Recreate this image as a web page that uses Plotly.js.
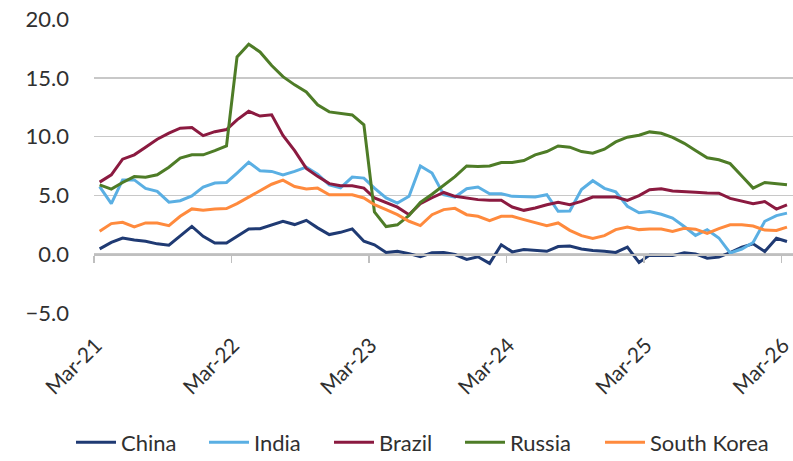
<!DOCTYPE html>
<html>
<head>
<meta charset="utf-8">
<script src="https://cdn.plot.ly/plotly-3.0.1.min.js"></script>
<style>html,body{margin:0;padding:0;background:#fff;}#chart{width:793px;height:461px;}</style>
</head>
<body>
<div id="chart"></div>
<script>
// Months (mid-month positions), Mar-21 .. Mar-26
const months = [
 "2021-03","2021-04","2021-05","2021-06","2021-07","2021-08","2021-09","2021-10","2021-11","2021-12",
 "2022-01","2022-02","2022-03","2022-04","2022-05","2022-06","2022-07","2022-08","2022-09","2022-10","2022-11","2022-12",
 "2023-01","2023-02","2023-03","2023-04","2023-05","2023-06","2023-07","2023-08","2023-09","2023-10","2023-11","2023-12",
 "2024-01","2024-02","2024-03","2024-04","2024-05","2024-06","2024-07","2024-08","2024-09","2024-10","2024-11","2024-12",
 "2025-01","2025-02","2025-03","2025-04","2025-05","2025-06","2025-07","2025-08","2025-09","2025-10","2025-11","2025-12",
 "2026-01","2026-02","2026-03"];

const china = [0.45,1.0,1.37,1.2,1.1,0.88,0.76,1.52,2.36,1.52,0.95,0.95,1.55,2.15,2.17,2.52,2.8,2.52,2.88,2.24,1.67,1.86,2.15,1.1,0.8,0.15,0.25,0.05,-0.22,0.12,0.15,-0.03,-0.45,-0.22,-0.78,0.8,0.2,0.4,0.35,0.25,0.65,0.7,0.45,0.32,0.25,0.15,0.6,-0.7,-0.08,-0.12,-0.12,0.12,0.03,-0.34,-0.25,0.14,0.6,0.88,0.23,1.36,1.08];
const india = [5.75,4.3,6.32,6.32,5.6,5.34,4.42,4.55,4.95,5.7,6.05,6.1,6.9,7.82,7.1,7.04,6.75,7.04,7.4,6.8,5.9,5.65,6.56,6.47,5.62,4.78,4.35,4.92,7.5,6.9,5.06,4.86,5.57,5.71,5.14,5.14,4.92,4.86,4.86,5.06,3.65,3.68,5.5,6.25,5.6,5.3,4.08,3.52,3.63,3.4,3.07,2.36,1.6,2.08,1.38,0.1,0.44,1.0,2.8,3.28,3.49];
const brazil = [6.13,6.75,8.08,8.45,9.1,9.78,10.3,10.72,10.77,10.08,10.42,10.6,11.42,12.15,11.75,11.85,10.1,8.8,7.3,6.62,6.0,5.82,5.82,5.62,4.78,4.35,4.0,3.36,4.3,4.8,5.25,4.92,4.78,4.64,4.58,4.58,4.01,3.73,3.93,4.21,4.41,4.21,4.49,4.86,4.86,4.86,4.58,4.98,5.48,5.57,5.38,5.35,5.26,5.2,5.19,4.75,4.5,4.29,4.48,3.84,4.2];
const russia = [5.9,5.54,6.1,6.6,6.55,6.75,7.4,8.17,8.45,8.45,8.8,9.2,16.78,17.86,17.2,16.05,15.1,14.4,13.8,12.7,12.1,12.0,11.84,11.0,3.6,2.35,2.5,3.3,4.4,5.1,5.9,6.6,7.5,7.45,7.5,7.8,7.8,7.97,8.45,8.73,9.2,9.1,8.73,8.59,8.93,9.55,9.95,10.12,10.4,10.28,9.93,9.43,8.81,8.2,8.03,7.7,6.65,5.62,6.1,5.98,5.9];
const southKorea = [1.95,2.6,2.71,2.32,2.66,2.66,2.43,3.22,3.85,3.73,3.85,3.88,4.3,4.86,5.34,5.95,6.3,5.76,5.54,5.62,5.06,5.06,5.06,4.78,4.21,3.79,3.36,2.8,2.43,3.36,3.79,3.9,3.36,3.22,2.86,3.22,3.22,2.94,2.71,2.43,2.66,2.03,1.58,1.33,1.58,2.09,2.32,2.09,2.15,2.15,1.94,2.2,2.13,1.76,2.18,2.5,2.5,2.4,2.05,2.02,2.3];

const seriesNames = ["China","India","Brazil","Russia","South Korea"];
const seriesColors = ["#1F3A73","#5AAFE3","#8B1A40","#4E7C27","#FF8A3D"];
const tickLabels = ["Mar-21","Mar-22","Mar-23","Mar-24","Mar-25","Mar-26"];
const tickMonths = ["2021-03","2022-03","2023-03","2024-03","2025-03","2026-03"];
const yTicks = [-5,0,5,10,15,20];

const xs = months.map(m => m + "-16");
const allSeries = [china, india, brazil, russia, southKorea];
const FONT = "Lato, 'Open Sans', sans-serif";
const legendKeys = ["legend","legend2","legend3","legend4","legend5"];
const legendLeft = [79, 212, 337, 468, 608];   // px, left edge of each legend entry

const traces = allSeries.map((ys, k) => ({
  type: "scatter", mode: "lines", x: xs, y: ys, name: seriesNames[k],
  legend: legendKeys[k],
  // last series sits on the overlaying axis that carries the zero-line tick marks
  xaxis: k === allSeries.length - 1 ? "x2" : "x",
  line: {color: seriesColors[k], width: 3}, hoverinfo: "skip"
}));

const xRange = ["2021-03-01", "2026-04-01"];
const layout = {
  width: 793, height: 461,
  margin: {l: 94, r: 0, t: 19, b: 148},
  paper_bgcolor: "#fff", plot_bgcolor: "#fff",
  font: {family: FONT, size: 22, color: "#303030"},
  showlegend: true,
  xaxis: {type: "date", range: xRange, tickmode: "array",
          tickvals: tickMonths.map(m => m + "-06"), ticktext: tickLabels,
          tickangle: -45, showgrid: false, showline: false, zeroline: false, ticks: "",
          tickfont: {family: FONT, size: 21, color: "#303030"},
          ticklabelstandoff: 15, ticklabeloverflow: "allow", fixedrange: true},
  xaxis2: {type: "date", range: xRange, overlaying: "x", anchor: "free", position: 0.2,
           tickmode: "array", tickvals: tickMonths.map(m => m + "-01"),
           showticklabels: false, ticks: "outside", ticklen: 7, tickcolor: "#BFBFBF", tickwidth: 1.5,
           showline: true, linecolor: "#BFBFBF", linewidth: 1.5, showgrid: false, zeroline: false,
           fixedrange: true},
  yaxis: {range: [-5, 20], tickmode: "array", tickvals: yTicks, tickformat: ".1f",
          showgrid: true, gridcolor: "#C8C8C8", gridwidth: 1.5, zeroline: false,
          showline: false, ticks: "", ticklabelstandoff: 24, fixedrange: true}
};
legendKeys.forEach((key, k) => {
  layout[key] = {orientation: "h", xref: "container", yref: "container",
    x: (legendLeft[k] - 8) / 793, xanchor: "left", y: 0.04, yanchor: "middle",
    font: {family: FONT, size: 22, color: "#303030"}, itemwidth: 40,
    bgcolor: "rgba(0,0,0,0)"};
});

Plotly.newPlot("chart", traces, layout, {displayModeBar: false, staticPlot: true});
</script>
</body>
</html>
